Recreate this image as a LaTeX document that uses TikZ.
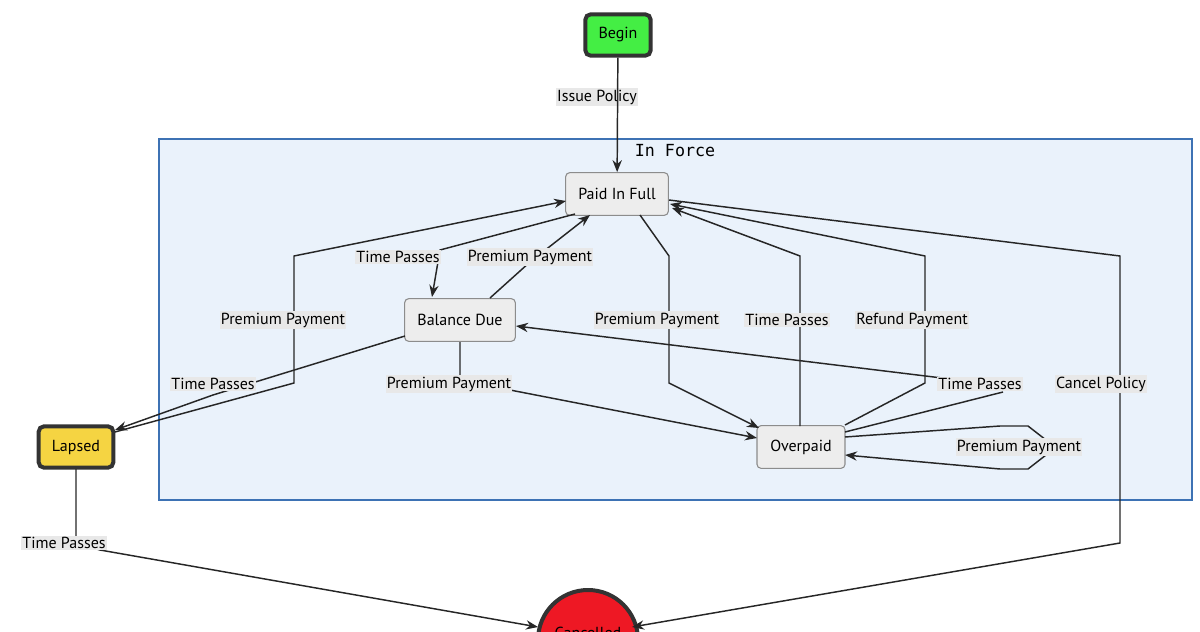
\documentclass[tikz,border=0pt]{standalone}
\usepackage{fontspec}
\setmainfont{PT Sans}
\setmonofont{DejaVu Sans Mono}
\usetikzlibrary{arrows.meta}
\definecolor{cl}{HTML}{EAF2FB}
\definecolor{cld}{HTML}{3D72B4}
\begin{document}
\begin{tikzpicture}[x=0.75pt,y=-0.75pt,
 st/.style={draw=black!45,fill=black!7,rounded corners=3pt,minimum height=32pt,font=\fontsize{12}{14}\selectfont,line width=0.8pt},
 term/.style={draw=black!80,line width=3pt,rounded corners=4pt,minimum height=31pt,font=\fontsize{12}{14}\selectfont},
 lb/.style={fill=black!9,inner sep=1pt,font=\fontsize{12}{14}\selectfont},
 ed/.style={draw=black!85,line width=1.1pt,-{Stealth[length=9pt,width=7pt]}},
 ln/.style={draw=black!85,line width=1.1pt}]
\useasboundingbox (0,0) rectangle (1200,632);
\clip (0,0) rectangle (1200,632);
\draw[fill=cl,draw=cld,line width=0.8pt] (159,139) rectangle (1192,500);
\node[font=\ttfamily\fontsize{12.5}{14}\selectfont] at (675,151) {In Force};
\node[term,fill={rgb,255:red,68;green,238;blue,68},minimum width=49pt] (begin) at (618,35) {Begin};
\node[term,fill={rgb,255:red,245;green,212;blue,66},minimum width=56pt] (lapsed) at (76,447) {Lapsed};
\node[st,minimum width=77pt] (pif) at (617,194) {Paid In Full};
\node[st,minimum width=83pt] (bd) at (460,320) {Balance Due};
\node[st,minimum width=66pt] (op) at (801,447) {Overpaid};
\node[circle,draw=black!80,line width=3pt,fill={rgb,255:red,238;green,24;blue,36},minimum size=75pt] (can) at (588,640) {};
\node[font=\fontsize{12}{14}\selectfont,anchor=north] at (588,622) {Cancelled};
% edges
\node[lb] (l1) at (597,97) {Issue Policy};
\draw[ed] (begin) -- (pif);
\draw[ed] (575,214) -- (440,250) -- (432,297);
\node[lb] at (398,257) {Time Passes};
\draw[ed] (490,298) -- (530,262) -- (590,215);
\node[lb] at (530,257) {Premium Payment};
\draw[ed] (115,432) -- (294,383) -- (294,256) -- (566,201);
\node[lb] at (283,320) {Premium Payment};
\draw[ed] (405,336) -- (213,395) -- (115,430);
\node[lb] at (213,384) {Time Passes};
\draw[ed] (460,342) -- (460,380) -- (510,390) -- (757,438);
\node[lb] at (449,384) {Premium Payment};
\draw[ed] (640,215) -- (669,256) -- (669,383) -- (759,428);
\node[lb] at (657,320) {Premium Payment};
\draw[ed] (800,426) -- (800,256) -- (672,208);
\node[lb] at (787,320) {Time Passes};
\draw[ed] (845,425) -- (925,383) -- (925,256) -- (670,204);
\node[lb] at (912,320) {Refund Payment};
\draw[ln] (845,432) -- (1003,392);
\draw[ed] (942,378) -- (516,326);
\node[lb] at (980,384) {Time Passes};
\draw[ed] (845,437) -- (1000,426) -- (1028,426) -- (1046,440) (1046,455) -- (1028,469) -- (1000,469) -- (845,455);
\node[lb] at (1019,447) {Premium Payment};
\draw[ed] (669,200) -- (1120,256) -- (1120,543) -- (632,627);
\node[lb] at (1101,384) {Cancel Policy};
\draw[ed] (76,469) -- (76,543) -- (100,550) -- (538,627);
\node[lb] at (64,543) {Time Passes};
\end{tikzpicture}
\end{document}
